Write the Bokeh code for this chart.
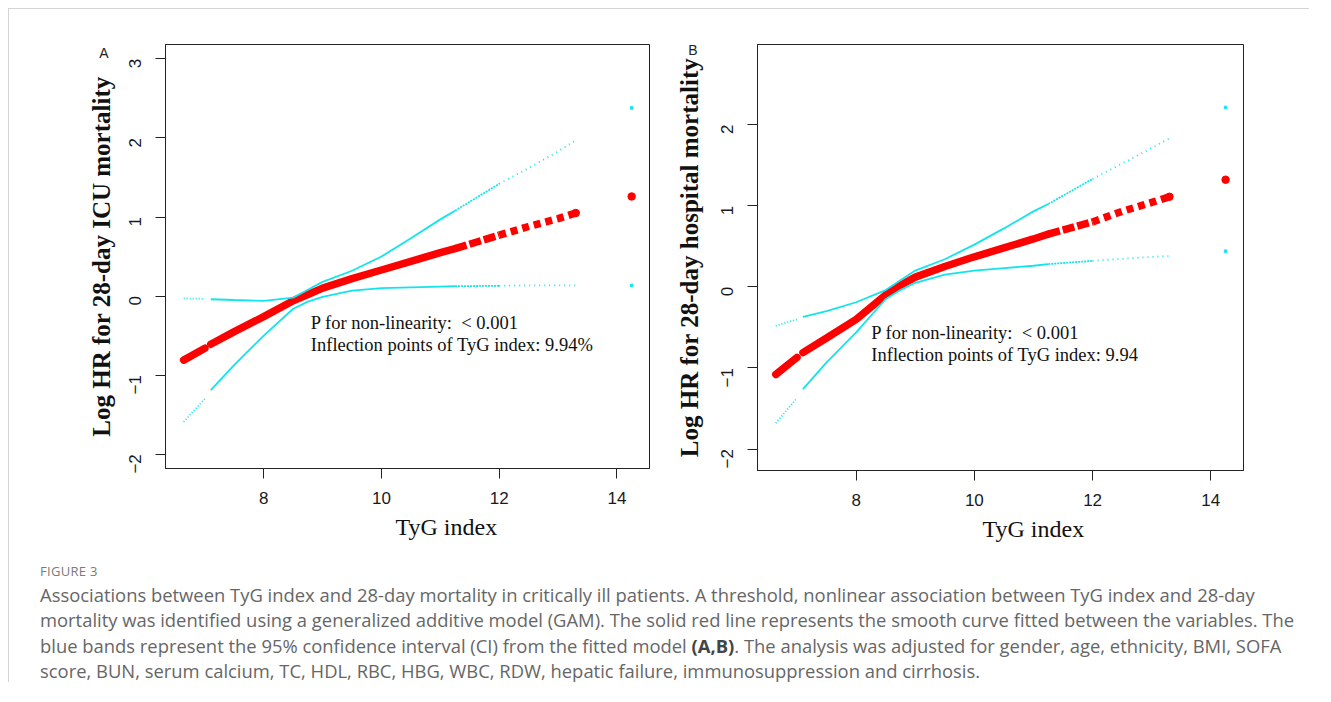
import math
from bokeh.plotting import figure
from bokeh.models import Range1d, FixedTicker, Div, Title, LinearAxis
from bokeh.layouts import row, column
from bokeh.core.properties import value
from bokeh.embed import file_html
from bokeh.resources import INLINE

# ---------------- data ----------------
tyg = [6.64, 7.0, 7.1, 7.5, 8.0, 8.5, 8.75, 9.0, 9.5, 10.0, 10.5, 11.0, 11.25,
       12.0, 12.5, 13.0, 13.3, 14.25]

icu_fit = [-0.81, -0.66, -0.61, -0.45, -0.26, -0.06, 0.02, 0.10, 0.22, 0.33, 0.44,
           0.55, 0.60, 0.77, 0.88, 0.98, 1.05, 1.26]
icu_upper = [-0.03, -0.035, -0.04, -0.05, -0.06, -0.02, 0.08, 0.18, 0.32, 0.50, 0.73,
             0.97, 1.08, 1.42, 1.62, 1.83, 1.97, 2.38]
icu_lower = [-1.59, -1.30, -1.19, -0.87, -0.50, -0.16, -0.07, -0.01, 0.07, 0.10, 0.11,
             0.12, 0.125, 0.13, 0.135, 0.135, 0.135, 0.135]

hosp_fit = [-1.08, -0.87, -0.81, -0.63, -0.40, -0.10, 0.02, 0.12, 0.25, 0.37, 0.48,
            0.59, 0.65, 0.80, 0.93, 1.04, 1.11, 1.32]
hosp_upper = [-0.48, -0.40, -0.37, -0.30, -0.19, -0.04, 0.08, 0.20, 0.34, 0.52, 0.72,
              0.93, 1.02, 1.33, 1.52, 1.71, 1.83, 2.21]
hosp_lower = [-1.68, -1.37, -1.26, -0.93, -0.56, -0.15, -0.04, 0.05, 0.15, 0.20, 0.23,
              0.26, 0.28, 0.32, 0.345, 0.37, 0.38, 0.44]

x_ticks = [8, 10, 12, 14]
icu_y_ticks = [-2, -1, 0, 1, 2, 3]
hosp_y_ticks = [-2, -1, 0, 1, 2]

icu_ylabel = "Log HR for 28-day ICU mortality"
hosp_ylabel = "Log HR for 28-day hospital mortality"
xlabel = "TyG index"

icu_notes = ["P for non-linearity:\u00a0 < 0.001", "Inflection points of TyG index: 9.94%"]
hosp_notes = ["P for non-linearity:\u00a0 < 0.001", "Inflection points of TyG index: 9.94"]
icu_note_x = [8.80, 8.80]
icu_note_y = [-0.339, -0.621]
hosp_note_x = [8.257, 8.257]
hosp_note_y = [-0.565, -0.845]

caption_head = "FIGURE 3"
caption_lines = [
    "Associations between TyG index and 28-day mortality in critically ill patients. A threshold, nonlinear association between TyG index and 28-day",
    "mortality was identified using a generalized additive model (GAM). The solid red line represents the smooth curve fitted between the variables. The",
    "blue bands represent the 95% confidence interval (CI) from the fitted model <b style='color:#444'>(A,B)</b>. The analysis was adjusted for gender, age, ethnicity, BMI, SOFA",
    "score, BUN, serum calcium, TC, HDL, RBC, HBG, WBC, RDW, hepatic failure, immunosuppression and cirrhosis.",
]

RED = "#FF0000"
CYAN = "#12E4EE"
INK = "#222222"

LEFT = slice(0, 2)
MID = slice(2, 13)
R1 = slice(12, 14)
R2 = slice(13, 17)
OUT = 17


def make_panel(fit, upper, lower, y_range, y_ticks, ylabel, notes, nx, ny, tag, tag_y,
               fw, fh, bl, br, bb, xl_offset, tag_standoff, title_standoff):
    p = figure(frame_width=fw, frame_height=fh,
               min_border_left=bl, min_border_right=br, min_border_top=35,
               min_border_bottom=bb,
               x_range=Range1d(6.331, 14.553), y_range=Range1d(*y_range),
               output_backend="svg", toolbar_location=None, tools="")
    p.grid.visible = False
    p.outline_line_color = INK
    p.outline_line_width = 1
    p.background_fill_color = "white"
    p.border_fill_color = "white"

    for ax in (p.xaxis[0], p.yaxis[0]):
        ax.axis_line_color = INK
        ax.major_tick_line_color = INK
        ax.major_tick_out = 10
        ax.major_tick_in = 0
        ax.minor_tick_out = 0
        ax.minor_tick_in = 0
        ax.major_label_text_font = "Liberation Sans"
        ax.major_label_text_font_size = "17px"
        ax.major_label_text_color = "#1a1a1a"

    p.xaxis.ticker = FixedTicker(ticks=x_ticks, minor_ticks=[])
    p.xaxis.major_label_standoff = 13
    p.yaxis.ticker = FixedTicker(ticks=y_ticks, minor_ticks=[])
    p.yaxis.major_label_orientation = math.pi / 2
    p.yaxis.major_label_standoff = 20
    p.yaxis.major_label_overrides = {t: ("\u2212" + str(-t) if t < 0 else str(t)) for t in y_ticks}

    # outer left axis: carries the panel tag and the y-axis title
    tag_axis = LinearAxis(ticker=FixedTicker(ticks=[tag_y], minor_ticks=[]),
                          major_label_overrides={tag_y: tag},
                          major_label_orientation="horizontal",
                          major_label_text_font="Liberation Sans",
                          major_label_text_font_size="14px",
                          major_label_text_color=INK,
                          major_label_standoff=tag_standoff,
                          major_tick_out=0, major_tick_in=0,
                          minor_tick_out=0, minor_tick_in=0,
                          axis_line_color=None, major_tick_line_color=None,
                          axis_label=ylabel,
                          axis_label_text_font="Liberation Serif",
                          axis_label_text_font_style="bold",
                          axis_label_text_font_size="25px",
                          axis_label_text_color="#111111",
                          axis_label_standoff=title_standoff)
    p.add_layout(tag_axis, "left")

    # fitted curve (red)
    p.line(tyg[LEFT], fit[LEFT], line_color=RED, line_width=7.5, line_cap="round")
    p.line(tyg[MID], fit[MID], line_color=RED, line_width=7.5, line_cap="round")
    p.line(tyg[R1], fit[R1], line_color=RED, line_width=7.5, line_dash="12 3")
    p.line(tyg[R2], fit[R2], line_color=RED, line_width=7.5, line_dash="7 5")
    p.scatter([tyg[16]], [fit[16]], size=7.5, color=RED)
    p.scatter([tyg[OUT]], [fit[OUT]], size=7.5, color=RED)

    # confidence bands (cyan)
    for band in (upper, lower):
        p.line(tyg[LEFT], band[LEFT], line_color=CYAN, line_width=1.8, line_dash="1 2")
        p.line(tyg[MID], band[MID], line_color=CYAN, line_width=1.8)
        p.line(tyg[R1], band[R1], line_color=CYAN, line_width=1.8, line_dash="2 1")
        p.line(tyg[R2], band[R2], line_color=CYAN, line_width=1.8, line_dash="1 4")
        p.scatter([tyg[OUT]], [band[OUT]], size=2.5, marker="square", color=CYAN)

    p.text(x=nx, y=ny, text=notes, text_font=value("Liberation Serif"),
           text_font_size="18.5px", text_baseline="middle", text_align="left",
           text_color="#111111")

    p.add_layout(Title(text=xlabel, align="left", offset=xl_offset,
                       text_font="Liberation Serif", text_font_size="24px",
                       text_font_style="normal", text_color="#111111",
                       vertical_align="middle", standoff=12), "below")
    return p


pA = make_panel(icu_fit, icu_upper, icu_lower, (-2.181, 3.182), icu_y_ticks, icu_ylabel,
                icu_notes, icu_note_x, icu_note_y, "A", 3.072,
                484, 424, 156, 24, 72, 230, 12, -19)
pB = make_panel(hosp_fit, hosp_upper, hosp_lower, (-2.263, 2.986), hosp_y_ticks, hosp_ylabel,
                hosp_notes, hosp_note_x, hosp_note_y, "B", 2.924,
                486, 426, 84, 20, 70, 225, 15, -18)

cap_html = (
    "<div style='font-family:\"Open Sans\", sans-serif; font-size:13px; color:#7a7a7a; "
    "letter-spacing:0.3px; line-height:16px; margin:15px 0 3px 31px;'>" + caption_head + "</div>"
    "<div style='font-family:\"Open Sans\", sans-serif; font-size:18.4px; color:#666; "
    "line-height:25.4px; margin-left:31px; white-space:nowrap;'>"
    + "<br>".join(caption_lines) + "</div>"
)
cap = Div(text=cap_html, width=1300, height=134, margin=0)

layout = column(row(pA, pB), cap, margin=(8, 0, 0, 8),
                styles={"border-top": "1px solid #d4d4d4", "border-left": "1px solid #d4d4d4"})

open("out.html", "w").write(file_html(layout, INLINE))
